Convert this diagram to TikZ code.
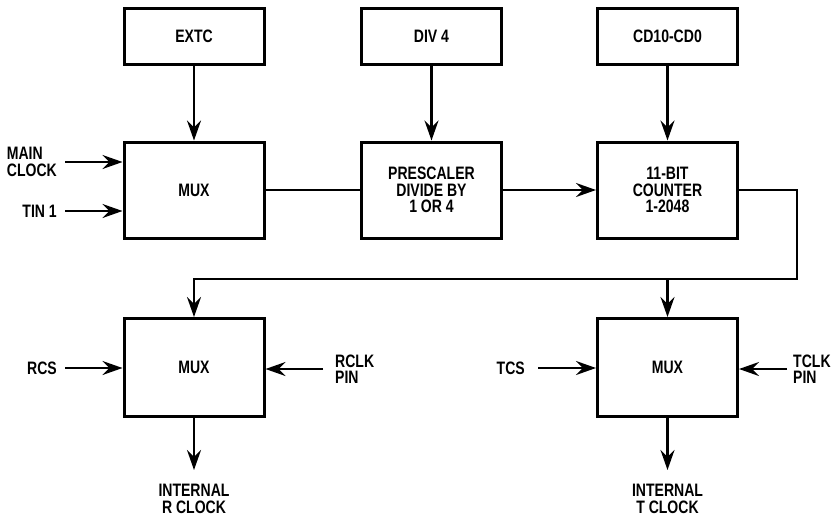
\documentclass[tikz,border=0pt]{standalone}
\usepackage{fontspec}
\setmainfont{Liberation Sans}[FakeStretch=0.78]
\usetikzlibrary{arrows.meta,calc,positioning}
\def\ColA{194}
\def\ColB{431.5}
\def\ColC{667.5}
\def\RowA{36}
\def\RowB{190}
\def\RowC{367.5}
\tikzset{
  blk/.style={
    draw, line width=3pt, minimum width=140pt, minimum height=#1,
    align=center, inner sep=0pt, font=\fontsize{18}{16.5}\selectfont\bfseries,
  },
  blk/.default=96pt,
  sig/.style={
    align=left, inner sep=0pt, font=\fontsize{18}{16.5}\selectfont\bfseries,
  },
  arr/.style={-{Stealth[length=20pt,width=14pt,inset=7pt]}, line width=2.2pt},
  wire/.style={line width=2.2pt},
}
\begin{document}
\begin{tikzpicture}[x=1pt,y=-1pt]
  \useasboundingbox (0,0) rectangle (840,517);

  % select inputs
  \node[blk=56pt] (extc) at (\ColA,\RowA) {EXTC};
  \node[blk=56pt] (div) at (\ColB,\RowA) {DIV 4};
  \node[blk=56pt] (cdin) at (\ColC,\RowA) {CD10-CD0};

  % clock chain
  \node[blk] (muxin) at (\ColA,\RowB) {MUX};
  \node[blk] (presc) at (\ColB,\RowB) {PRESCALER\\DIVIDE BY\\1 OR 4};
  \node[blk] (cnt) at (\ColC,\RowB) {11-BIT\\COUNTER\\1-2048};

  % output muxes
  \node[blk=98pt] (muxr) at (\ColA,\RowC) {MUX};
  \node[blk=98pt] (muxt) at (\ColC,\RowC) {MUX};

  % signal labels
  \node[sig, anchor=east] (mclk) at (57,162) {MAIN\\CLOCK};
  \node[sig, anchor=east] (tin) at (57,211) {TIN 1};
  \node[sig, anchor=east] (rcs) at (57,368) {RCS};
  \node[sig, anchor=west] (rclk) at (335,369) {RCLK\\PIN};
  \node[sig, anchor=east] (tcs) at (525,368) {TCS};
  \node[sig, anchor=west] (tclk) at (793,369) {TCLK\\PIN};
  \node[sig, align=center, anchor=north] (rout) at (\ColA,484) {INTERNAL\\R CLOCK};
  \node[sig, align=center, anchor=north] (tout) at (\ColC,484) {INTERNAL\\T CLOCK};
  \coordinate (rend) at (\ColA,470);
  \coordinate (tend) at (\ColC,470);
  \coordinate (bus) at (797,279);

  \draw[arr] (extc) -- (muxin);
  \draw[arr] (div) -- (presc);
  \draw[arr] (cdin) -- (cnt);
  \draw[wire] (muxin) -- (presc);
  \draw[arr] (presc) -- (cnt);
  \draw[arr] ([xshift=8pt]mclk.east) -- (mclk.east -| muxin.west);
  \draw[arr] ([xshift=8pt]tin.east) -- (tin.east -| muxin.west);
  \draw[arr] (cnt.east) -| (bus) -| (muxr.north);
  \draw[arr] (bus -| muxt.north) -- (muxt.north);
  \draw[arr] ([xshift=8pt]rcs.east) -- (rcs.east -| muxr.west);
  \draw[arr] ([xshift=-12pt]rclk.west) -- (rclk.west -| muxr.east);
  \draw[arr] ([xshift=13pt]tcs.east) -- (tcs.east -| muxt.west);
  \draw[arr] ([xshift=-6pt]tclk.west) -- (tclk.west -| muxt.east);
  \draw[arr] (muxr) -- (rend);
  \draw[arr] (muxt) -- (tend);
\end{tikzpicture}
\end{document}
